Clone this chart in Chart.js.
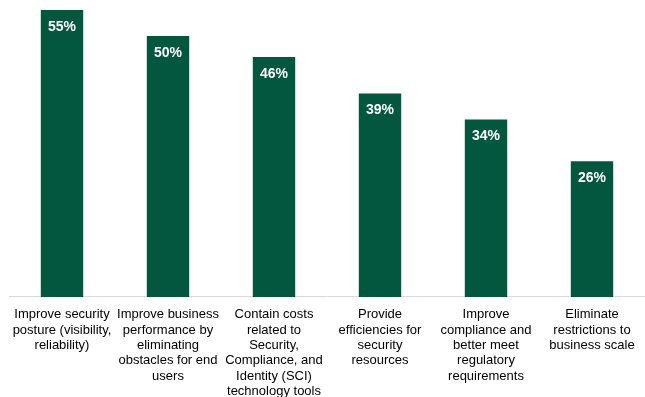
<!DOCTYPE html>
<html>
<head>
<meta charset="utf-8">
<script src="https://cdn.jsdelivr.net/npm/chart.js@4"></script>
<style>
  html, body { margin: 0; padding: 0; background: #fff; }
  #wrap { width: 645px; height: 397px; }
</style>
</head>
<body>
<div id="wrap"><canvas id="benefitsChart"></canvas></div>
<script>
// category labels, already broken into lines like the source
const categories = [
  ['Improve security', 'posture (visibility,', 'reliability)'],
  ['Improve business', 'performance by', 'eliminating', 'obstacles for end', 'users'],
  ['Contain costs', 'related to', 'Security,', 'Compliance, and', 'Identity (SCI)', 'technology tools'],
  ['Provide', 'efficiencies for', 'security', 'resources'],
  ['Improve', 'compliance and', 'better meet', 'regulatory', 'requirements'],
  ['Eliminate', 'restrictions to', 'business scale']
];
const percentValues = [55, 50, 46, 39, 34, 26];

// white value label just under the top of each bar
const barLabels = {
  id: 'barLabels',
  afterDatasetsDraw(chart) {
    const ctx = chart.ctx;
    const meta = chart.getDatasetMeta(0);
    ctx.save();
    ctx.fillStyle = '#ffffff';
    ctx.font = 'bold 14px "Liberation Sans", Arial, sans-serif';
    ctx.textAlign = 'center';
    ctx.textBaseline = 'middle';
    meta.data.forEach((bar, i) => {
      ctx.fillText(percentValues[i] + '%', bar.x, bar.y + 17);
    });
    ctx.restore();
  }
};

new Chart(document.getElementById('benefitsChart'), {
  type: 'bar',
  data: {
    labels: categories,
    datasets: [{
      data: percentValues,
      backgroundColor: '#03573E',
      barPercentage: 0.4,
      categoryPercentage: 1.0
    }]
  },
  options: {
    responsive: true,
    maintainAspectRatio: false,
    animation: false,
    layout: { padding: { top: 10, left: 9, right: 0, bottom: -4 } },
    plugins: { legend: { display: false }, tooltip: { enabled: false } },
    scales: {
      x: {
        grid: { display: false },
        border: { display: true, color: '#d9d9d9', width: 1 },
        ticks: {
          color: '#000000',
          padding: 2,
          maxRotation: 0,
          autoSkip: false,
          font: { family: '"Liberation Sans", Arial, sans-serif', size: 13, lineHeight: 1.18 }
        }
      },
      y: {
        display: false,
        min: 0,
        max: 55
      }
    }
  },
  plugins: [barLabels]
});
</script>
</body>
</html>
